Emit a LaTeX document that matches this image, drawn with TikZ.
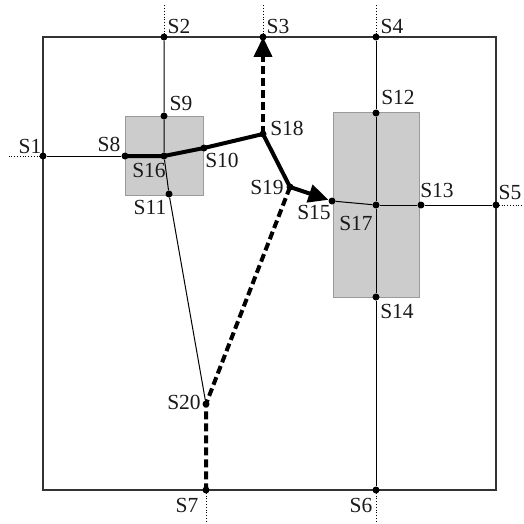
\documentclass[tikz,border=0pt]{standalone}
\usepackage{fontspec}
\setmainfont{Liberation Serif}
\usetikzlibrary{arrows.meta,positioning}
\definecolor{ink}    {HTML}{1A1A1A}
\definecolor{frame}  {HTML}{333333}
\definecolor{boxgray}{HTML}{CCCCCC}
\definecolor{boxedge}{HTML}{9A9A9A}
\tikzset{
  >=Triangle,
  every node/.style={font=\fontsize{21.5}{24}\selectfont},
  % --- nodes
  dot/.style   = {circle, fill=black, inner sep=0pt, minimum size=7pt},
  lbl/.style   = {inner sep=0pt, text=ink},
  % --- edges
  wall/.style  = {draw=frame, line width=1.1pt},
  link/.style  = {draw=black, line width=1pt},
  ext/.style   = {draw=black, dotted, line width=0.8pt},
  route/.style = {draw=black, line width=4pt, line join=round},
  alt/.style   = {route, dash pattern=on 8pt off 4pt},
  tip/.style   = {-{Triangle[length=20pt,width=18pt]}},
  zone/.style  = {fill=boxgray, draw=boxedge, line width=0.8pt},
}

\begin{document}
\begin{tikzpicture}[x=1pt, y=-1pt]
  \useasboundingbox (0,0) rectangle (523,524);
  % grey zones
  \draw[zone] (125,116) rectangle (203,195);
  \draw[zone] (333,112) rectangle (419,297);
  % frame
  \coordinate (nw) at (43,37);
  \coordinate (se) at (496,490);
  \draw[wall] (nw) rectangle (se);
  % points
  \node[dot] (s1)  at (43,156)  {};
  \node[dot] (s2)  at (164,37)  {};
  \node[dot] (s3)  at (263,37)  {};
  \node[dot] (s4)  at (376,37)  {};
  \node[dot] (s5)  at (496,205) {};
  \node[dot] (s6)  at (376,490) {};
  \node[dot] (s7)  at (206,490) {};
  \node[dot] (s8)  at (125,156) {};
  \node[dot] (s9)  at (164,116) {};
  \node[dot] (s10) at (204,148) {};
  \node[dot] (s11) at (169,194) {};
  \node[dot] (s12) at (376,113) {};
  \node[dot] (s13) at (421,205) {};
  \node[dot] (s14) at (376,297) {};
  \node[dot] (s15) at (332,201) {};
  \node[dot] (s16) at (164,156) {};
  \node[dot] (s17) at (376,205) {};
  \node[dot] (s18) at (263,134) {};
  \node[dot] (s19) at (290,187) {};
  \node[dot] (s20) at (206,404) {};
  % outer ends
  \coordinate (x1) at (8,156);
  \coordinate (x2) at (164,5);
  \coordinate (x3) at (263,5);
  \coordinate (x4) at (376,5);
  \coordinate (x5) at (523,205);
  \coordinate (x6) at (376,524);
  \coordinate (x7) at (206,524);
  \foreach \i in {1,...,7}{
    \draw[ext] (s\i.center) -- (x\i);
  }
  % streets
  \draw[link] (s2) -- (s9) -- (s16) -- (s11) -- (s20);
  \draw[link] (s1) -- (s8);
  \draw[link] (s4) -- (s12) -- (s17) -- (s14) -- (s6);
  \draw[link] (s17) -- (s13) -- (s5);
  \draw[link] (s15) -- (s17);
  % routes
  \draw[route] (s8.center) -- (s16.center) -- (s10.center) -- (s18.center) -- (s19.center);
  \draw[route, tip] (s19.center) -- (s15);
  \draw[alt, tip] (s18.center) -- (s3.center);
  \draw[alt] (s19.center) -- (s20.center) -- (s7.center);
  % labels
  \node[lbl] (t1)  at (30,146)  {S1};
  \node[lbl] (t2)  at (179,26)  {S2};
  \node[lbl] (t3)  at (278,26)  {S3};
  \node[lbl] (t4)  at (392,26)  {S4};
  \node[lbl] (t5)  at (510,192) {S5};
  \node[lbl] (t6)  at (361,505) {S6};
  \node[lbl] (t7)  at (187,505) {S7};
  \node[lbl] (t8)  at (109,144) {S8};
  \node[lbl] (t9)  at (181,103) {S9};
  \node[lbl] (t10) at (222,160) {S10};
  \node[lbl] (t11) at (150,207) {S11};
  \node[lbl] (t12) at (398,97)  {S12};
  \node[lbl] (t13) at (437,190) {S13};
  \node[lbl] (t14) at (397,311) {S14};
  \node[lbl] (t15) at (314,212) {S15};
  \node[lbl] (t16) at (149,170) {S16};
  \node[lbl] (t17) at (356,223) {S17};
  \node[lbl] (t18) at (287,128) {S18};
  \node[lbl] (t19) at (267,187) {S19};
  \node[lbl] (t20) at (184,402) {S20};
\end{tikzpicture}
\end{document}
